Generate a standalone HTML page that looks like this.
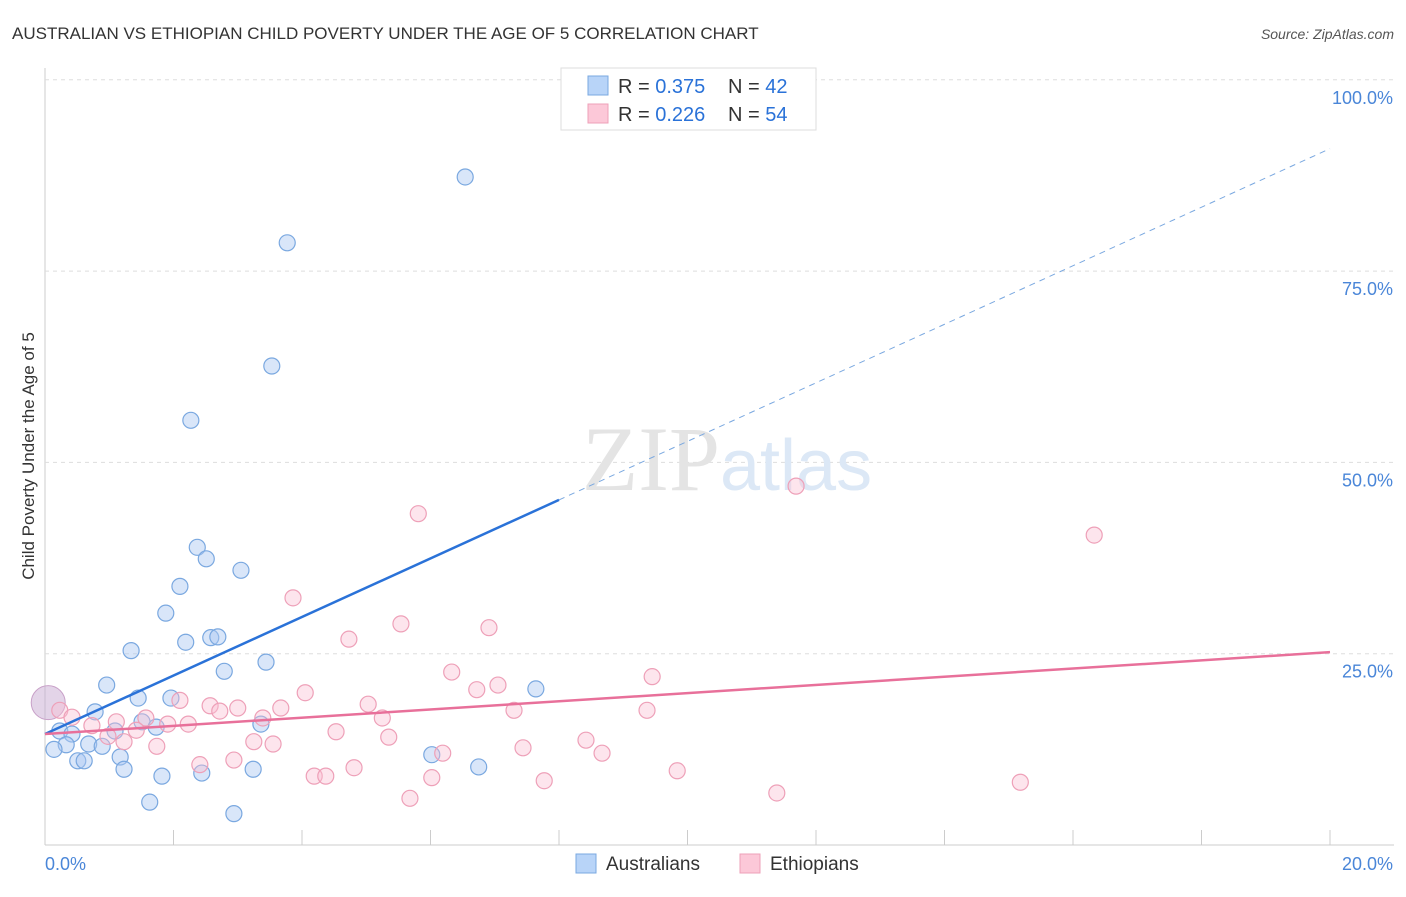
<!DOCTYPE html>
<html><head><meta charset="utf-8"><style>
body{margin:0;background:#fff;font-family:"Liberation Sans",sans-serif}
</style></head><body>
<svg id="c" width="1406" height="892" xmlns="http://www.w3.org/2000/svg">
<text x="12" y="39" font-size="17" fill="#333">AUSTRALIAN VS ETHIOPIAN CHILD POVERTY UNDER THE AGE OF 5 CORRELATION CHART</text>
<text x="1394" y="39" font-size="14" fill="#555" text-anchor="end" font-style="italic">Source: ZipAtlas.com</text>
<text x="34" y="456" font-size="17" fill="#333" text-anchor="middle" transform="rotate(-90 34 456)">Child Poverty Under the Age of 5</text>
<g id="grid"></g>
<text x="720" y="490" font-size="92" fill="#e4e4e4" text-anchor="end" font-family="Liberation Serif">ZIP</text>
<text x="720" y="490" font-size="72" fill="#dce8f6">atlas</text>
<g id="pts"></g>
<g id="lines"></g>
<g>
<rect x="561" y="68" width="255" height="62" fill="#fff" stroke="#ddd"/>
<rect x="588" y="76" width="20" height="19" fill="#b8d4f8" stroke="#7aa8e0"/>
<rect x="588" y="104" width="20" height="19" fill="#fcc8d8" stroke="#eea0b8"/>
<text x="618" y="93" font-size="20" fill="#333">R = <tspan fill="#2a72d8">0.375</tspan></text>
<text x="728" y="93" font-size="20" fill="#333">N = <tspan fill="#2a72d8">42</tspan></text>
<text x="618" y="121" font-size="20" fill="#333">R = <tspan fill="#2a72d8">0.226</tspan></text>
<text x="728" y="121" font-size="20" fill="#333">N = <tspan fill="#2a72d8">54</tspan></text>
</g>
<g>
<rect x="576" y="854" width="20" height="19" fill="#b8d4f8" stroke="#7aa8e0"/>
<text x="606" y="870" font-size="19" fill="#333">Australians</text>
<rect x="740" y="854" width="20" height="19" fill="#fcc8d8" stroke="#eea0b8"/>
<text x="770" y="870" font-size="19" fill="#333">Ethiopians</text>
</g>
</svg>
<script>
const xTicks=[0,2,4,6,8,10,12,14,16,18,20];
const yTicks=[25,50,75,100];
const ausX=[6.54,3.77,3.53,2.27,2.37,2.51,3.05,2.10,1.88,2.19,2.58,2.69,1.34,3.44,2.79,0.96,1.45,1.96,7.64,0.78,1.51,1.73,3.36,0.23,0.42,1.09,0.68,0.89,0.33,0.14,1.17,0.51,0.61,1.23,6.02,6.75,3.24,1.82,2.44,1.63,2.94];
const ausY=[87.3,78.7,62.6,55.5,38.9,37.4,35.9,33.8,30.3,26.5,27.1,27.2,25.4,23.9,22.7,20.9,19.2,19.2,20.4,17.4,16.1,15.4,15.8,14.9,14.5,14.9,13.2,12.9,13.1,12.5,11.5,11.0,11.0,9.9,11.8,10.2,9.9,9.0,9.4,5.6,4.1];
const ethX=[11.69,16.33,5.81,3.86,5.54,6.91,4.73,6.33,9.45,7.05,6.72,4.05,2.10,5.03,2.57,3.00,3.67,2.72,7.30,9.37,0.23,0.42,1.57,3.39,5.25,1.11,1.91,2.23,0.73,0.98,1.42,4.53,5.35,1.23,3.25,3.55,8.42,1.74,7.44,8.67,6.19,2.94,2.41,4.81,9.84,4.19,4.37,6.02,7.77,15.18,5.68,11.39];
const ethY=[46.9,40.5,43.3,32.3,28.9,28.4,26.9,22.6,22.0,20.9,20.3,19.9,18.9,18.4,18.2,17.9,17.9,17.5,17.6,17.6,17.6,16.7,16.6,16.6,16.6,16.1,15.8,15.8,15.6,14.2,15.0,14.8,14.1,13.5,13.5,13.2,13.7,12.9,12.7,12.0,12.0,11.1,10.5,10.1,9.7,9.0,9.0,8.8,8.4,8.2,6.1,6.8];
const ausLine=[14.5,45.1];   // value at x=0 and x=8
const ethLine=[14.5,25.2];   // value at x=0 and x=20
const NS='http://www.w3.org/2000/svg';
const sx=v=>45+v/20*1285, sy=v=>845-v/100*765.2;
function mk(tag,a,p){const e=document.createElementNS(NS,tag);for(const k in a)e.setAttribute(k,a[k]);p.appendChild(e);return e;}
const g=document.getElementById('grid');
let ax=mk('line',{x1:45,y1:68,x2:45,y2:845,stroke:'#ccc'},g);

let bx=mk('line',{x1:45,y1:845,x2:1394,y2:845,stroke:'#ccc'},g);

yTicks.forEach(t=>{
 const l=mk('line',{x1:45,x2:1394,y1:sy(t),y2:sy(t),stroke:'#ddd','stroke-dasharray':'4 4'},g);
 
 const tx=mk('text',{x:1393,y:sy(t)+24,'font-size':18,fill:'#4a86d8','text-anchor':'end'},g);tx.textContent=t.toFixed(1)+'%';
 
});
xTicks.forEach(t=>{
 const l=mk('line',{x1:sx(t),x2:sx(t),y1:830,y2:845,stroke:'#ccc'},g);
 
});
[[0,'start'],[20,'end']].forEach(([t,a])=>{
 const tx=mk('text',{x:t?1393:45,y:870,'font-size':18,fill:'#4a86d8','text-anchor':a},g);tx.textContent=t.toFixed(1)+'%';
 
});
const p=document.getElementById('pts');
let big=mk('circle',{cx:sx(0.05),cy:sy(18.6),r:17,fill:'rgba(200,170,210,0.5)',stroke:'#c8a0c8'},p);

ausX.forEach((v,i)=>{const c=mk('circle',{cx:sx(v),cy:sy(ausY[i]),r:8,fill:'rgba(170,200,242,0.45)',stroke:'#7aa8e0','stroke-width':1.2},p);
 });
ethX.forEach((v,i)=>{const c=mk('circle',{cx:sx(v),cy:sy(ethY[i]),r:8,fill:'rgba(250,190,210,0.4)',stroke:'#eea0b8','stroke-width':1.2},p);
 });
const L=document.getElementById('lines');
const slope=(ausLine[1]-ausLine[0])/8;
let a1=mk('line',{x1:sx(0),y1:sy(ausLine[0]),x2:sx(8),y2:sy(ausLine[1]),stroke:'#2a72d8','stroke-width':2.5},L);

let a2=mk('line',{x1:sx(8),y1:sy(ausLine[1]),x2:sx(20),y2:sy(ausLine[0]+slope*20),stroke:'#7aa8e0','stroke-width':1,'stroke-dasharray':'6 5'},L);

let e1=mk('line',{x1:sx(0),y1:sy(ethLine[0]),x2:sx(20),y2:sy(ethLine[1]),stroke:'#e8709a','stroke-width':2.5},L);

</script>
</body></html>
